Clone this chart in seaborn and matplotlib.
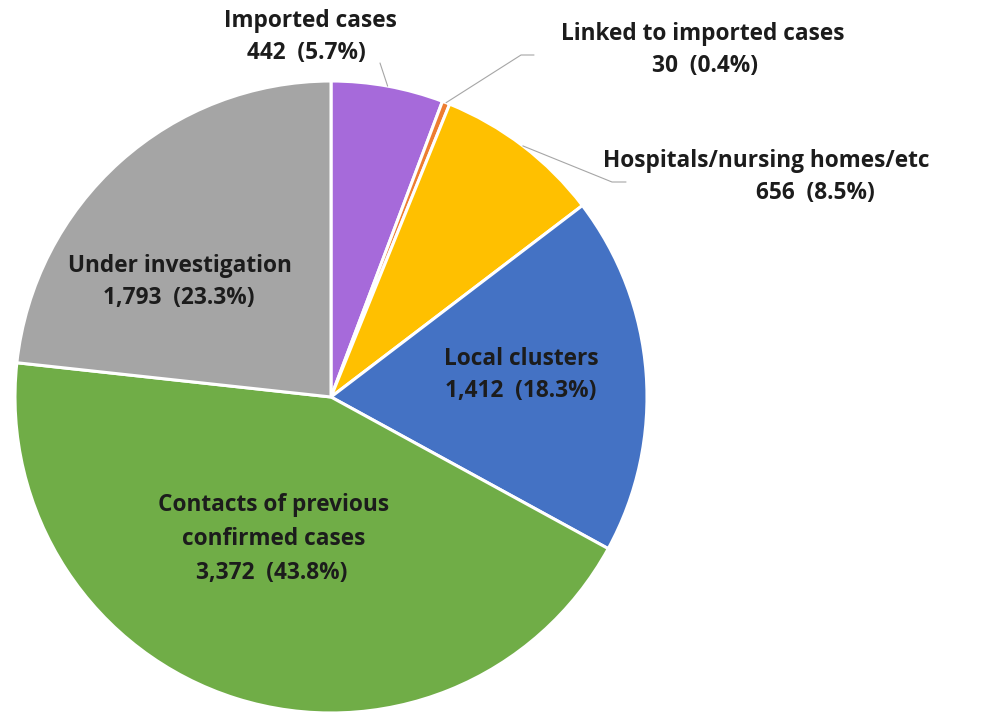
import numpy as np
import matplotlib.pyplot as plt
import seaborn as sns

# source of cases
categories = ["Imported cases", "Linked to imported cases", "Hospitals/nursing homes/etc",
              "Local clusters", "Contacts of previous\nconfirmed cases", "Under investigation"]
counts = [442, 30, 656, 1412, 3372, 1793]
colors = ["#A66ADA", "#ED7D31", "#FFC000", "#4472C4", "#70AD47", "#A5A5A5"]

sns.set_theme(style="white")
plt.rcParams['font.family'] = ['Open Sans', 'DejaVu Sans']

W, H = 990, 719
fig = plt.figure(figsize=(W / 100, H / 100), dpi=100)
ax = fig.add_axes([0, 0, 1, 1])

wedges, _ = ax.pie(
    counts,
    colors=colors,
    startangle=90,
    counterclock=False,
    center=(331, H - 397),
    radius=316,
    wedgeprops=dict(edgecolor='white', linewidth=2.2)
)
ax.set_xlim(0, W)
ax.set_ylim(0, H)
ax.set_aspect('equal')
ax.axis('off')

total = sum(counts)

# x of each line, baseline of first line (image pixels, y down)
layout = [
    ([310, 306], 27),
    ([703, 705], 40),
    ([766, 815], 167),
    ([521, 521], 365),
    ([274, 274, 272], 511),
    ([180, 179], 272),
]

for name, value, (xs, y0) in zip(categories, counts, layout):
    lines = name.split("\n") + [f"{value:,}  ({value / total * 100:.1f}%)"]
    step = 34 if len(lines) > 2 else 32
    for i, (line, x) in enumerate(zip(lines, xs)):
        ax.text(x, H - (y0 + i * step), line, ha='center', va='baseline',
                fontsize=16.3, fontweight='bold', color='#1c1c1c')

# leader lines for the small slices
leaders = {0: [(380, 63)], 1: [(521, 55), (534, 55)], 2: [(612, 182), (626, 182)]}
for idx, pts in leaders.items():
    w = wedges[idx]
    mid = np.deg2rad((w.theta1 + w.theta2) / 2)
    cx, cy = w.center
    start = (cx + w.r * np.cos(mid), cy + w.r * np.sin(mid))
    xs = [start[0]] + [p[0] for p in pts]
    ys = [start[1]] + [H - p[1] for p in pts]
    ax.plot(xs, ys, color='#A6A6A6', linewidth=0.8)

plt.savefig("out.png", dpi=100)
plt.close()
